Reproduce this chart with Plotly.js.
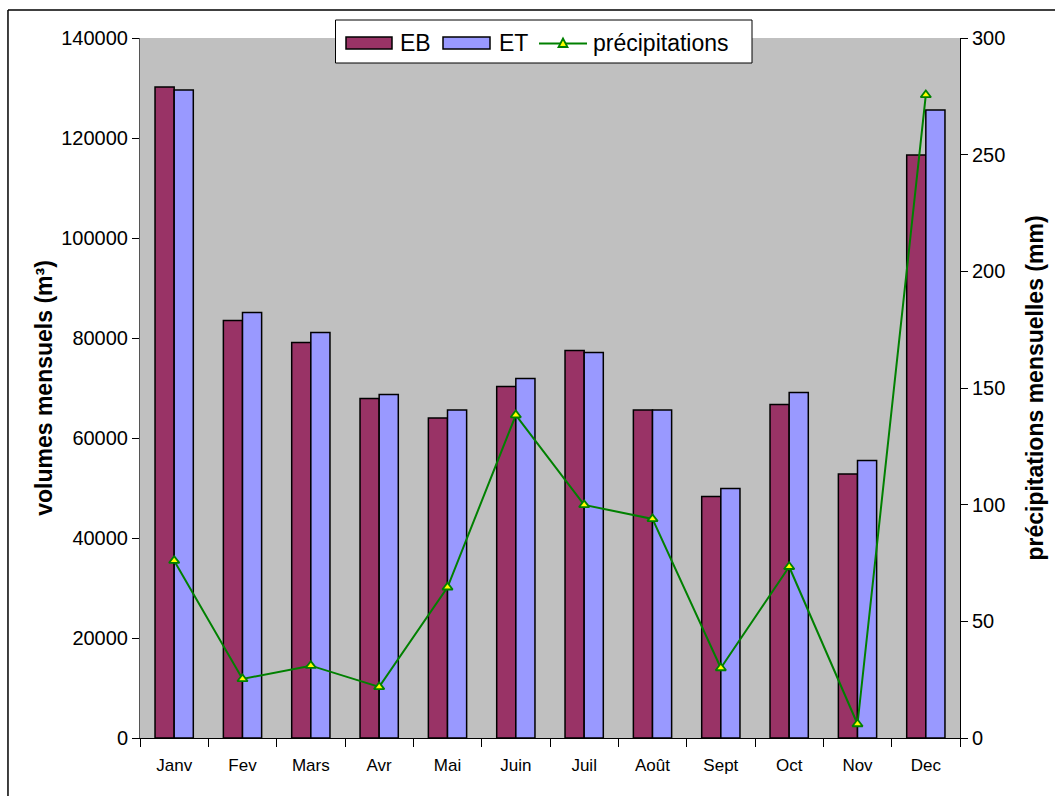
<!DOCTYPE html>
<html><head><meta charset="utf-8">
<script src="https://cdn.plot.ly/plotly-3.0.1.min.js"></script>
<style>html,body{margin:0;padding:0;background:#fff}#c{width:1055px;height:796px}</style>
</head><body><div id="c"></div>
<script>
const months = ["Janv","Fev","Mars","Avr","Mai","Juin","Juil","Août","Sept","Oct","Nov","Dec"];
const eb = [130200, 83500, 79100, 67900, 64000, 70300, 77500, 65600, 48300, 66700, 52800, 116600];
const et = [129600, 85100, 81100, 68700, 65600, 71900, 77100, 65600, 49900, 69100, 55500, 125600];
const precip = [76, 25.3, 31, 21.9, 64.6, 138.4, 99.9, 93.9, 30, 73.4, 6, 275.6];
const seriesNames = ["EB", "ET", "précipitations"];

const font = "Liberation Sans, Arial, sans-serif";
const cEB = '#993366', cET = '#9999FF', cLine = '#008000', cMk = '#FFFF00';
const traces = [
  {type:'bar', name:seriesNames[0], x:months, y:eb, marker:{color:cEB, line:{color:'#000', width:1.5}}},
  {type:'bar', name:seriesNames[1], x:months, y:et, marker:{color:cET, line:{color:'#000', width:1.5}}},
  {type:'scatter', mode:'lines+markers', name:seriesNames[2], x:months, y:precip, yaxis:'y2',
   line:{color:cLine, width:2},
   marker:{symbol:'triangle-up', size:9, color:cMk, line:{color:cLine, width:1.8}}}
];

// custom legend (paper coords)
const px = v => (v-140)/820, py = v => (738-v)/700;
const legShapes = [
  {type:'rect', xref:'paper', yref:'paper', x0:px(335.5), x1:px(752), y0:py(63), y1:py(20), fillcolor:'#fff', line:{color:'#000', width:1}},
  {type:'rect', xref:'paper', yref:'paper', x0:px(346), x1:px(392), y0:py(49), y1:py(37), fillcolor:cEB, line:{color:'#000', width:1.5}},
  {type:'rect', xref:'paper', yref:'paper', x0:px(443), x1:px(490), y0:py(49), y1:py(37), fillcolor:cET, line:{color:'#000', width:1.5}},
  {type:'line', xref:'paper', yref:'paper', x0:px(539), x1:px(587), y0:py(43.5), y1:py(43.5), line:{color:cLine, width:2}},
  {type:'path', xref:'paper', yref:'paper', xsizemode:'pixel', ysizemode:'pixel', xanchor:px(563), yanchor:py(43.5),
   path:'M -4.5,-3.5 L 4.5,-3.5 L 0,5 Z', fillcolor:cMk, line:{color:cLine, width:1.8}}
];
const legAnn = [
  {text:seriesNames[0], x:px(398), y:py(43), xanchor:'left', yanchor:'middle'},
  {text:seriesNames[1], x:px(497), y:py(43), xanchor:'left', yanchor:'middle'},
  {text:seriesNames[2], x:px(591), y:py(43), xanchor:'left', yanchor:'middle'}
].map(a => Object.assign(a, {xref:'paper', yref:'paper', showarrow:false, font:{size:23, family:font, color:'#000'}}));

const layout = {
  width:1055, height:796,
  margin:{l:140, r:95, t:38, b:58},
  paper_bgcolor:'#fff', plot_bgcolor:'#C0C0C0',
  font:{family:font, color:'#000'},
  barmode:'group', bargap:0.44, bargroupgap:0,
  showlegend:false,
  xaxis:{type:'category', range:[-0.5, 11.5], showline:true, linecolor:'#000', linewidth:1, ticks:'outside', ticklen:8,
    tickcolor:'#000', tickson:'boundaries', tickfont:{size:17, family:font}, showgrid:false,
    zeroline:false, ticklabelstandoff:12},
  yaxis:{range:[0,140000], dtick:20000, tickformat:'d', showline:true, linecolor:'#555', linewidth:1, ticks:'outside',
    ticklen:7, tickcolor:'#000', showgrid:false, zeroline:false, tickfont:{size:20, family:font},
    title:{text:'<b>volumes mensuels (m³)</b>', font:{size:23, family:font}, standoff:2}},
  yaxis2:{range:[0,300], dtick:50, overlaying:'y', side:'right', showline:true, linecolor:'#000', linewidth:1,
    ticks:'outside', ticklen:7, tickcolor:'#000', showgrid:false, zeroline:false, tickfont:{size:20, family:font},
    title:{text:'<b>précipitations mensuelles (mm)</b>', font:{size:23, family:font}, standoff:22}},
  shapes:[
    {type:'line', xref:'paper', yref:'paper', x0:-0.161, x1:1.2, y0:1.04, y1:1.04, line:{color:'#000', width:1.5}},
    {type:'line', xref:'paper', yref:'paper', x0:-0.161, x1:-0.161, y0:1.04, y1:-0.2, line:{color:'#000', width:1.5}}
  ].concat(legShapes),
  annotations:legAnn
};
Plotly.newPlot('c', traces, layout, {displayModeBar:false});
</script></body></html>
